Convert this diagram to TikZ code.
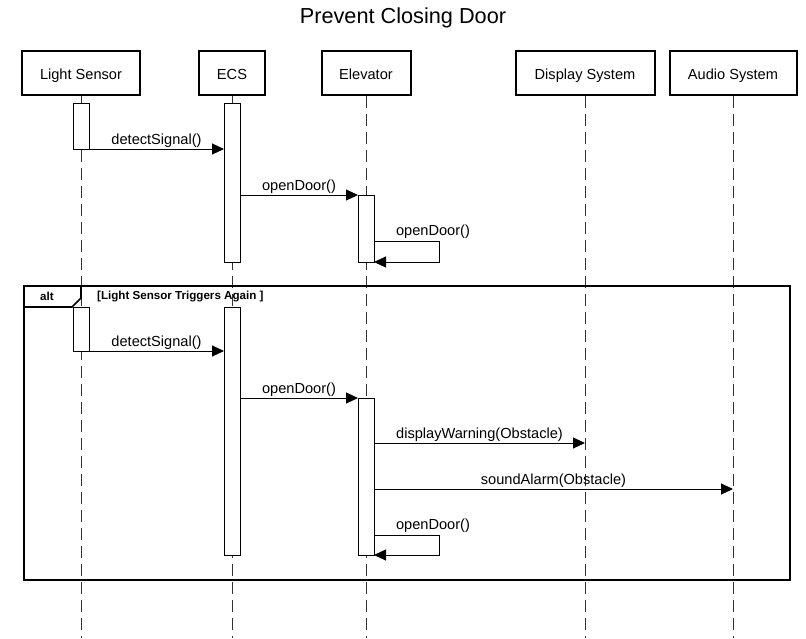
\documentclass[tikz,border=0pt]{standalone}
\usepackage{fontspec}
\setmainfont{Liberation Sans}
\usetikzlibrary{arrows.meta}
\begin{document}
\begin{tikzpicture}[x=1pt,y=-1pt,
  head/.style={draw, line width=2pt, fill=white, minimum height=44pt, inner sep=0pt, text height=12pt, text depth=0pt, font=\fontsize{14.6}{17}\selectfont},
  life/.style={draw=black!80, line width=1pt, dash pattern=on 12pt off 6pt},
  act/.style={draw, line width=1pt, fill=white, minimum width=16pt, inner sep=0pt},
  msg/.style={line width=1pt, -{Triangle[length=12pt,width=11pt]}},
  lbl/.style={font=\fontsize{14.6}{17}\selectfont, inner sep=0pt, anchor=base},
  frame/.style={draw, line width=2pt}
]
\useasboundingbox (0,0) rectangle (806,638);
\node[font=\fontsize{21.7}{25}\selectfont] (title) at (403,18) {Prevent Closing Door};

% heads
\node[head, minimum width=118pt] (ls) at (81,73) {Light Sensor};
\node[head, minimum width=66pt] (ecs) at (232,73) {ECS};
\node[head, minimum width=89pt] (el) at (366,73) {Elevator};
\node[head, minimum width=139pt] (ds) at (585,73) {Display System};
\node[head, minimum width=127pt] (as) at (733,73) {Audio System};

% lifeline ends
\coordinate (lsE) at (81,638);
\coordinate (ecsE) at (232,638);
\coordinate (elE) at (366,638);
\coordinate (dsE) at (585,638);
\coordinate (asE) at (733,638);
\draw[life] (ls.south) -- (lsE);
\draw[life] (ecs.south) -- (ecsE);
\draw[life] (el.south) -- (elE);
\draw[life] (ds.south) -- (dsE);
\draw[life] (as.south) -- (asE);

% alt frame
\draw[frame] (24,286) rectangle (790,580);
\draw[line width=1.6pt] (24,307) -- (72,307) -- (81,298) -- (81,286);
\node[font=\bfseries\fontsize{11.6}{14}\selectfont, inner sep=0pt] (alt) at (47,296.5) {alt};
\node[font=\bfseries\fontsize{11.6}{14}\selectfont, inner sep=0pt, anchor=west] (guard) at (97,296.5) {[Light Sensor Triggers Again ]};

% activations
\node[act, minimum height=46pt] (ls1) at (81,126) {};
\node[act, minimum height=159pt] (ecs1) at (232,182.5) {};
\node[act, minimum height=67pt] (el1) at (366,228.5) {};
\node[act, minimum height=44pt] (ls2) at (81,329) {};
\node[act, minimum height=248pt] (ecs2) at (232,431) {};
\node[act, minimum height=157pt] (el2) at (366,476.5) {};

% messages, part 1
\coordinate (m1s) at (89,149);
\coordinate (m1e) at (224,149);
\draw[msg] (m1s) -- (m1e) node[lbl, pos=0.5, yshift=5pt] {detectSignal()};
\coordinate (m2s) at (240,195);
\coordinate (m2e) at (358,195);
\draw[msg] (m2s) -- (m2e) node[lbl, pos=0.5, yshift=5pt] {openDoor()};
\coordinate (s1a) at (374,241);
\coordinate (s1b) at (439,241);
\coordinate (s1c) at (439,262);
\coordinate (s1d) at (374,262);
\draw[msg] (s1a) -- (s1b) -- (s1c) -- (s1d);
\node[lbl] (s1l) at (433,235) {openDoor()};

% messages, part 2
\coordinate (m3s) at (89,351);
\coordinate (m3e) at (224,351);
\draw[msg] (m3s) -- (m3e) node[lbl, pos=0.5, yshift=5pt] {detectSignal()};
\coordinate (m4s) at (240,398);
\coordinate (m4e) at (358,398);
\draw[msg] (m4s) -- (m4e) node[lbl, pos=0.5, yshift=5pt] {openDoor()};
\coordinate (m5s) at (374,443);
\coordinate (m5e) at (585,443);
\draw[msg] (m5s) -- (m5e) node[lbl, pos=0.5, yshift=5pt] {displayWarning(Obstacle)};
\coordinate (m6s) at (374,489);
\coordinate (m6e) at (733,489);
\draw[msg] (m6s) -- (m6e) node[lbl, pos=0.5, yshift=5pt] {soundAlarm(Obstacle)};
\coordinate (s2a) at (374,535);
\coordinate (s2b) at (439,535);
\coordinate (s2c) at (439,555);
\coordinate (s2d) at (374,555);
\draw[msg] (s2a) -- (s2b) -- (s2c) -- (s2d);
\node[lbl] (s2l) at (433,529) {openDoor()};
\end{tikzpicture}
\end{document}
